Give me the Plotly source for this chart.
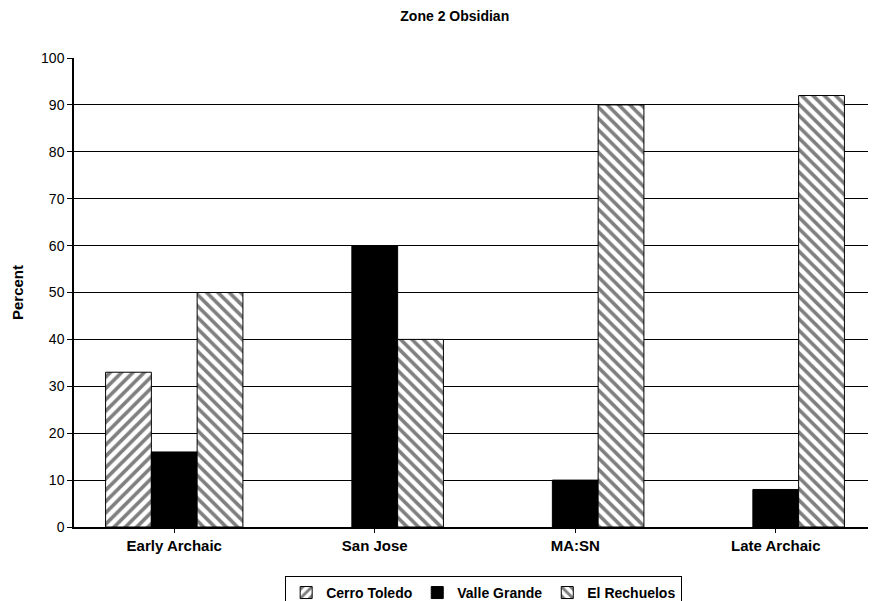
import plotly.graph_objects as go

categories = ["Early Archaic", "San Jose", "MA:SN", "Late Archaic"]
cerro_toledo = [33, 0, 0, 0]
valle_grande = [16, 60, 10, 8]
el_rechuelos = [50, 40, 90, 92]
y_ticks = list(range(0, 101, 10))

FONT = "Liberation Sans, Arial, sans-serif"


def outline(vals):
    # no outline on zero-height bars (nothing is drawn in the reference)
    return [1 if v else 0 for v in vals]


fig = go.Figure()
fig.add_trace(go.Bar(
    name="<b>Cerro Toledo</b>", x=categories, y=cerro_toledo,
    marker=dict(color="white", line=dict(color="black", width=outline(cerro_toledo)),
                pattern=dict(shape="/", fgcolor="black", bgcolor="white", size=8, solidity=0.45)),
))
fig.add_trace(go.Bar(
    name="<b>Valle Grande</b>", x=categories, y=valle_grande,
    marker=dict(color="black", line=dict(color="black", width=outline(valle_grande))),
))
fig.add_trace(go.Bar(
    name="<b>El Rechuelos</b>", x=categories, y=el_rechuelos,
    marker=dict(color="white", line=dict(color="black", width=outline(el_rechuelos)),
                pattern=dict(shape="\\", fgcolor="black", bgcolor="white", size=8, solidity=0.45)),
))

fig.update_layout(
    width=876, height=601,
    margin=dict(l=66, r=8, t=50, b=82),
    paper_bgcolor="white", plot_bgcolor="white",
    barmode="group", bargap=0.315, bargroupgap=0,
    font=dict(family=FONT, size=14, color="black"),
    title=dict(text="<b>Zone 2 Obsidian</b>", x=0.51, xanchor="center", y=0.986, yanchor="middle",
               font=dict(size=14, family=FONT)),
    showlegend=True,
    legend=dict(orientation="h", xref="container", yref="container",
                x=0.543, xanchor="center", y=0.055, yanchor="top",
                bordercolor="black", borderwidth=1, bgcolor="white",
                font=dict(size=14, family=FONT), itemwidth=30, traceorder="normal",
                tracegroupgap=0),
    xaxis=dict(showline=True, linecolor="black", linewidth=1.5, ticks="outside", ticklen=4,
               tickcolor="black", showgrid=False,
               tickfont=dict(size=15, family=FONT)),
    yaxis=dict(range=[0, 100], tickvals=y_ticks, showline=True, linecolor="black", linewidth=1.5,
               ticks="outside", ticklen=5, tickcolor="black",
               showgrid=True, gridcolor="black", gridwidth=1, zeroline=False,
               tickfont=dict(size=14, family=FONT),
               title=dict(text="<b>Percent</b>", font=dict(size=15, family=FONT), standoff=14)),
)
fig.update_xaxes(tickprefix="<b>", ticksuffix="</b>")
fig.update_yaxes(tickprefix="<b>", ticksuffix="</b>")

fig.write_html("out.html")
